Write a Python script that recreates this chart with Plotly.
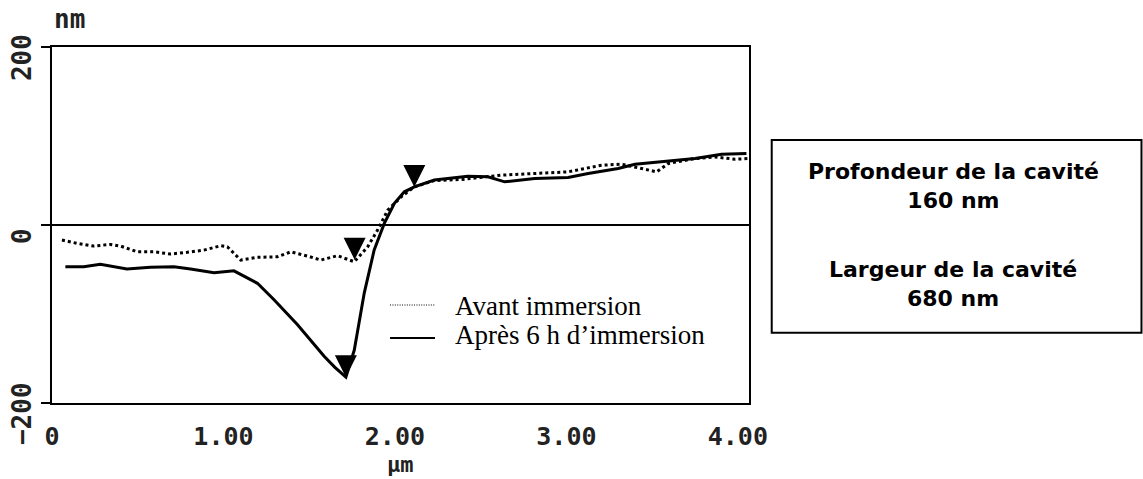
import plotly.graph_objects as go

# Profil AFM de la cavité : position (µm) et hauteur (nm)
apres_x = [0.078, 0.185, 0.282, 0.437, 0.574, 0.711, 0.808, 0.945, 1.061, 1.198,
           1.295, 1.432, 1.587, 1.650, 1.714, 1.763, 1.821, 1.879, 1.938, 1.997,
           2.055, 2.113, 2.230, 2.425, 2.542, 2.640, 2.815, 3.010, 3.127, 3.302,
           3.400, 3.594, 3.750, 3.905, 4.050]
apres_nm = [-47, -47, -44, -49.5, -47.5, -47, -49.5, -53.5, -51.5, -65.5,
            -84, -112, -147.5, -160, -171, -140.5, -76.5, -28, 1.8, 24.3,
            37.3, 42.9, 50.5, 54.9, 54.1, 48.5, 52.2, 53.4, 57.9, 63.5,
            68.3, 72, 74.8, 79.6, 80.3]

avant_x = [0.058, 0.146, 0.243, 0.341, 0.400, 0.497, 0.594, 0.691, 0.789, 0.886,
           0.984, 1.023, 1.101, 1.198, 1.315, 1.393, 1.490, 1.568, 1.665, 1.763,
           1.841, 1.899, 1.958, 2.036, 2.113, 2.230, 2.386, 2.542, 2.620, 2.815,
           3.010, 3.205, 3.322, 3.439, 3.526, 3.594, 3.750, 3.867, 3.984, 4.062]
avant_nm = [-16.9, -20.6, -23.7, -21.8, -23.7, -30.1, -30.1, -32.6, -30.7, -28.2,
            -23.3, -24.5, -39.4, -36.3, -35.7, -30.1, -34.9, -39.4, -34.5, -41.3,
            -24.5, -5.7, 16.7, 31.6, 42.8, 50.0, 51.1, 54.1, 56.0, 57.9,
            59.7, 67.2, 68.3, 63.5, 59.7, 69.1, 74.7, 76.5, 73.9, 74.7]

# Curseurs de mesure (pointe du triangle sur le profil)
curseur_x = [2.113, 1.765, 1.714]
curseur_nm = [42.8, -39, -171]

x_ticks = [0, 1, 2, 3, 4]
x_tick_text = ["0", "1.00", "2.00", "3.00", "4.00"]
x_tick_marks = [0, 1, 2, 3]
y_ticks = [-200, 0, 200]
y_tick_text = ["\u2212200", "0", "200"]

legende = ["Avant immersion", "Après 6 h d\u2019immersion"]
encadre = ["Profondeur de la cavité<br>160 nm", "Largeur de la cavité<br>680 nm"]

AXIS_FONT = dict(family="DejaVu Sans Mono", size=26, color="#222", weight="bold")

fig = go.Figure()
fig.add_trace(go.Scatter(x=apres_x, y=apres_nm, mode="lines",
                         line=dict(color="black", width=3), name=legende[1],
                         hoverinfo="skip"))
fig.add_trace(go.Scatter(x=avant_x, y=avant_nm, mode="lines",
                         line=dict(color="black", width=3, dash="3px,3px"),
                         name=legende[0], hoverinfo="skip"))
fig.add_trace(go.Scatter(x=curseur_x, y=curseur_nm, mode="markers",
                         marker=dict(symbol="arrow-down", size=22, color="black",
                                     line=dict(width=0)),
                         hoverinfo="skip"))

fig.update_layout(
    width=1143, height=479,
    margin=dict(l=52, r=394, t=47, b=76),
    plot_bgcolor="white", paper_bgcolor="white",
    showlegend=False,
    xaxis=dict(range=[0, 4.065], tickmode="array", tickvals=x_ticks,
               ticktext=x_tick_text, ticks="", showline=True, mirror=True,
               linecolor="black", linewidth=2, showgrid=False, zeroline=False,
               tickfont=dict(AXIS_FONT, size=25), ticklabelstandoff=10,
               automargin=False),
    xaxis2=dict(range=[0, 4.065], overlaying="x", anchor="y", side="bottom",
                tickmode="array", tickvals=x_tick_marks, ticks="outside",
                ticklen=11, tickwidth=2, tickcolor="black",
                showticklabels=False, showline=False, showgrid=False,
                zeroline=False, automargin=False),
    yaxis=dict(range=[-200, 200], tickmode="array", tickvals=y_ticks,
               ticks="outside", ticklen=9, tickwidth=2, tickcolor="black",
               showticklabels=False, automargin=False,
               showline=True, mirror=True, linecolor="black", linewidth=2,
               showgrid=False, zeroline=True, zerolinecolor="black",
               zerolinewidth=2),
)

# Graduations verticales écrites de bas en haut, sous chaque repère
for val, txt in zip(y_ticks, y_tick_text):
    fig.add_annotation(text=txt, xref="paper", yref="y", x=-0.043, y=val,
                       xanchor="center", yanchor="middle", yshift=-11,
                       textangle=-90, showarrow=False, font=AXIS_FONT)

# Unités des axes
fig.add_annotation(text="nm", xref="paper", yref="paper", x=0.0244, y=1.0787,
                   xanchor="center", yanchor="middle", showarrow=False,
                   font=AXIS_FONT)
fig.add_annotation(text="µm", xref="paper", yref="paper", x=0.4993, y=-0.2135,
                   xanchor="center", yanchor="bottom", showarrow=False,
                   font=dict(AXIS_FONT, size=22))

# Légende
fig.add_shape(type="line", xref="paper", yref="paper", x0=0.485, x1=0.5495,
              y0=0.2753, y1=0.2753, line=dict(color="black", width=1.2, dash="1px,1.4px"))
fig.add_shape(type="line", xref="paper", yref="paper", x0=0.485, x1=0.5495,
              y0=0.1826, y1=0.1826, line=dict(color="black", width=2))
for txt, yy in zip(legende, [0.2725, 0.1924]):
    fig.add_annotation(text=txt, xref="paper", yref="paper", x=0.5753, y=yy,
                       xanchor="left", yanchor="middle", showarrow=False,
                       font=dict(family="Liberation Serif", size=27, color="black"))

# Encadré des mesures
fig.add_shape(type="rect", xref="paper", yref="paper", x0=1.0326, x1=1.5631,
              y0=0.1975, y1=0.7388, line=dict(color="black", width=2))
for txt, yy in zip(encadre, [0.6103, 0.335]):
    fig.add_annotation(text=txt, xref="paper", yref="paper", x=1.2927, y=yy,
                       xanchor="center", yanchor="middle", showarrow=False,
                       font=dict(family="DejaVu Sans", size=22, color="black",
                                 weight="bold"))

fig.write_html("out.html")
